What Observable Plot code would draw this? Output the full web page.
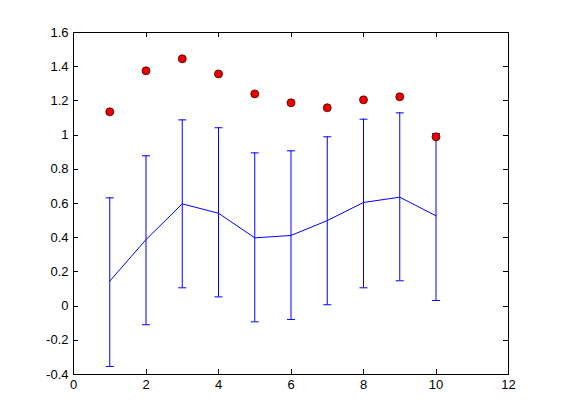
<!DOCTYPE html>
<html>
<head>
<meta charset="utf-8">
<script src="https://cdn.jsdelivr.net/npm/d3@7"></script>
<script src="https://cdn.jsdelivr.net/npm/@observablehq/plot@0.6"></script>
<style>
  html, body { margin: 0; padding: 0; background: #ffffff; }
  #chart { width: 561px; height: 420px; }
</style>
</head>
<body>
<div id="chart"></div>
<script>
const xs = [1, 2, 3, 4, 5, 6, 7, 8, 9, 10];
const meanValues = [0.146, 0.389, 0.598, 0.543, 0.399, 0.413, 0.500, 0.606, 0.637, 0.528];
const lowerValues = [-0.353, -0.109, 0.107, 0.054, -0.092, -0.078, 0.008, 0.107, 0.148, 0.033];
const upperValues = [0.633, 0.879, 1.089, 1.043, 0.896, 0.908, 0.990, 1.093, 1.130, 1.008];
const dotValues = [1.136, 1.376, 1.446, 1.358, 1.241, 1.189, 1.160, 1.206, 1.224, 0.990];
const xTicks = [0, 2, 4, 6, 8, 10, 12];
const yTicks = [-0.4, -0.2, 0, 0.2, 0.4, 0.6, 0.8, 1, 1.2, 1.4, 1.6];

const rows = xs.map((x, i) => ({x, mean: meanValues[i], lo: lowerValues[i], hi: upperValues[i], dot: dotValues[i]}));

const W = 561, H = 420;
const mL = 73, mR = 53, mT = 32, mB = 46;
const frameW = W - mL - mR, frameH = H - mT - mB;
const tickLen = 5;
const blue = "#0000ff";

const capSymbol = {
  draw(context) {
    context.moveTo(-4, 0);
    context.lineTo(4, 0);
  }
};

const fmt = d => String(d);
const crisp = {shapeRendering: "crispEdges"};

const chart = Plot.plot({
  width: W,
  height: H,
  marginLeft: mL,
  marginRight: mR,
  marginTop: mT,
  marginBottom: mB,
  style: {fontFamily: "'Liberation Sans', Arial, Helvetica, sans-serif", fontSize: "13px", color: "#000", background: "#ffffff"},
  x: {domain: [0, 12], ticks: xTicks},
  y: {domain: [-0.4, 1.6], ticks: yTicks},
  marks: [
    Plot.axisX(xTicks, {tickSize: 0, tickPadding: 5, tickFormat: fmt, label: null, fontSize: 13}),
    Plot.axisY(yTicks, {tickSize: 0, tickPadding: 5, tickFormat: fmt, label: null, fontSize: 13}),
    Plot.tickX(xTicks, {x: d => d, insetTop: frameH - tickLen, stroke: "#000", ...crisp}),
    Plot.tickX(xTicks, {x: d => d, insetBottom: frameH - tickLen, stroke: "#000", ...crisp}),
    Plot.tickY(yTicks, {y: d => d, insetRight: frameW - tickLen, stroke: "#000", ...crisp}),
    Plot.tickY(yTicks, {y: d => d, insetLeft: frameW - tickLen, stroke: "#000", ...crisp}),
    Plot.ruleX(rows, {x: "x", y1: "lo", y2: "hi", stroke: blue, strokeWidth: 1}),
    Plot.dot(rows, {x: "x", y: "hi", symbol: capSymbol, stroke: blue, fill: "none", strokeWidth: 1, r: 4}),
    Plot.dot(rows, {x: "x", y: "lo", symbol: capSymbol, stroke: blue, fill: "none", strokeWidth: 1, r: 4}),
    Plot.line(rows, {x: "x", y: "mean", stroke: blue, strokeWidth: 1}),
    Plot.dot(rows, {x: "x", y: "dot", r: 4, fill: "#ee0000", stroke: "#400000", strokeWidth: 0.8}),
    Plot.frame({stroke: "#000", ...crisp})
  ]
});
document.getElementById("chart").appendChild(chart);
</script>
</body>
</html>
